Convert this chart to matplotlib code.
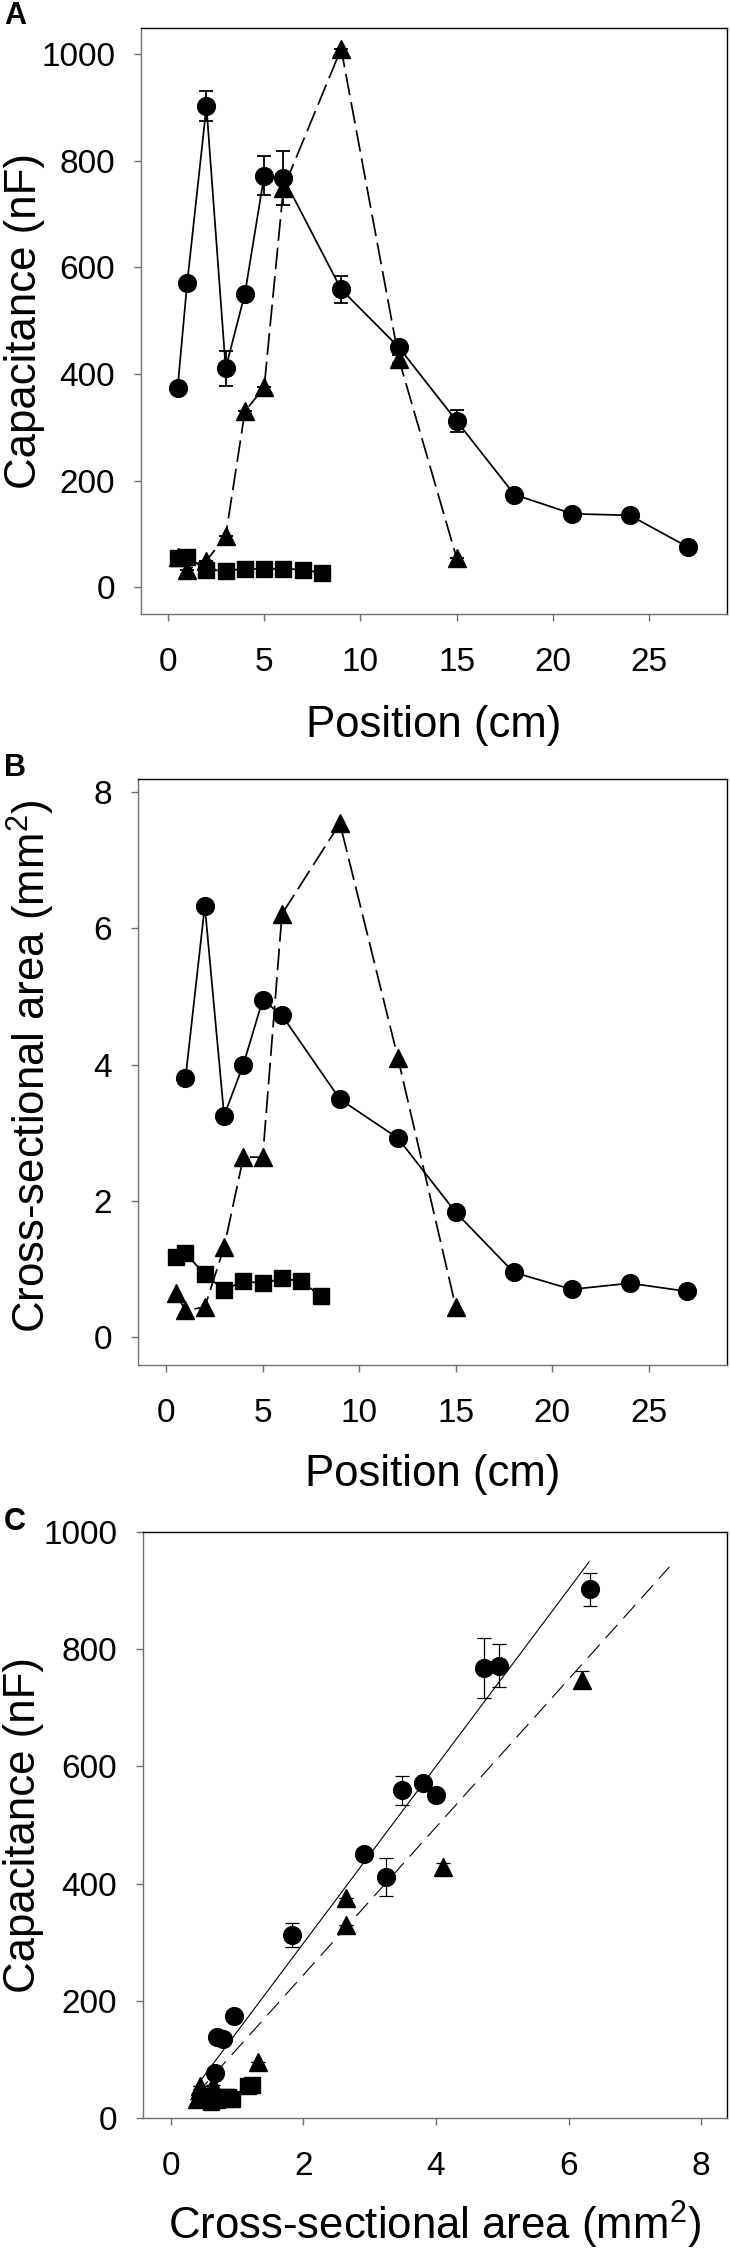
import matplotlib
matplotlib.use("Agg")
import matplotlib.pyplot as plt
import numpy as np

plt.rcParams['font.family'] = ['Liberation Sans', 'DejaVu Sans']
plt.rcParams['mathtext.fontset'] = 'custom'
plt.rcParams['mathtext.rm'] = 'Liberation Sans'
plt.rcParams['mathtext.it'] = 'Liberation Sans'

# ---------------- data ----------------
# Panel A: capacitance (nF) vs position (cm)
circ_pos_A = [0.5, 1, 2, 3, 4, 5, 6, 9, 12, 15, 18, 21, 24, 27]
circ_cap = [373, 571, 902, 411, 551, 772, 768, 559, 450, 312, 174, 138, 135, 76]
circ_cap_err = [0, 8, 28, 33, 0, 37, 51, 25, 8, 20, 0, 0, 0, 0]

tri_pos = [0.5, 1, 2, 3, 4, 5, 6, 9, 12, 15]
tri_cap = [56, 33, 50, 96, 330, 375, 748, 1010, 428, 55]
tri_cap_err = [0, 0, 0, 0, 0, 0, 15, 0, 8, 0]

sq_pos = [0.5, 1, 2, 3, 4, 5, 6, 7, 8]
sq_cap = [55, 57, 33, 31, 35, 34, 35, 33, 27]

# Panel B: cross-sectional area (mm^2) vs position (cm)
circ_pos_B = [1, 2, 3, 4, 5, 6, 9, 12, 15, 18, 21, 24, 27]
circ_area = [3.80, 6.33, 3.25, 4.00, 4.95, 4.72, 3.49, 2.92, 1.83, 0.95, 0.70, 0.79, 0.67]
tri_area = [0.64, 0.39, 0.44, 1.32, 2.64, 2.64, 6.21, 7.54, 4.10, 0.44]
sq_area = [1.17, 1.23, 0.92, 0.69, 0.82, 0.79, 0.86, 0.82, 0.60]

# Panel C: regression lines (slope, intercept, x-range)
fit_solid = dict(slope=151.0, intercept=-3.7, x0=0.45, x1=6.31)
fit_dashed = dict(slope=126.1, intercept=-8.0, x0=0.38, x1=7.52)

# ---------------- figure ----------------
W, H = 730, 2250
fig = plt.figure(figsize=(W / 100, H / 100), dpi=100)

def frac(left, top, right, bottom):
    return [left / W, 1 - bottom / H, (right - left) / W, (bottom - top) / H]

boxA = (141, 28, 727, 614)
boxB = (138, 779, 727, 1365)
boxC = (143, 1532, 727, 2118)
axA = fig.add_axes(frac(*boxA))
axB = fig.add_axes(frac(*boxB))
axC = fig.add_axes(frac(*boxC))

TICK_FS = 24
LABEL_FS = 31.5
GREY = '#707070'

def style(ax):
    for s in ['top', 'right']:
        ax.spines[s].set_color('black')
        ax.spines[s].set_linewidth(1.0)
    for s in ['left', 'bottom']:
        ax.spines[s].set_color(GREY)
        ax.spines[s].set_linewidth(1.0)
    ax.tick_params(direction='out', length=5, width=1.0, color=GREY,
                   labelsize=TICK_FS, labelcolor='black',
                   top=False, right=False)
    ax.tick_params(axis='x', pad=19)
    ax.tick_params(axis='y', pad=13.5)

def xlabel(text, box, baseline):
    cx = (box[0] + box[2]) / 2
    fig.text(cx / W, 1 - baseline / H, text, fontsize=LABEL_FS,
             ha='center', va='baseline')

def ylabel(text, box, baseline_x, cy=None):
    if cy is None:
        cy = (box[1] + box[3]) / 2
    fig.text(baseline_x / W, 1 - cy / H, text, fontsize=LABEL_FS,
             rotation=90, rotation_mode='anchor', ha='center', va='baseline')

MS_C = 12.8
MS_T = 13
MS_S = 12
LW = 1.25
CAP = 5
dash_A = (0, (12.5, 4))

# ---- Panel A ----
axA.errorbar(tri_pos, tri_cap, yerr=tri_cap_err, color='black', marker='^',
             ms=MS_T, lw=LW, linestyle=dash_A, capsize=CAP, elinewidth=1.3,
             capthick=1.3, zorder=2)
axA.errorbar(sq_pos, sq_cap, color='black', marker='s', ms=MS_S, lw=LW,
             linestyle='-', zorder=3)
axA.errorbar(circ_pos_A, circ_cap, yerr=circ_cap_err, color='black',
             marker='o', ms=MS_C, lw=LW, linestyle='-', capsize=CAP,
             elinewidth=1.3, capthick=1.3, zorder=4)
axA.set_xlim(-1.4, 29.05)
axA.set_ylim(-50, 1049)
axA.set_xticks([0, 5, 10, 15, 20, 25])
axA.set_yticks([0, 200, 400, 600, 800, 1000])
style(axA)
xlabel('Position (cm)', boxA, 737)
ylabel('Capacitance (nF)', boxA, 36)

# ---- Panel B ----
axB.plot(tri_pos, tri_area, color='black', marker='^', ms=MS_T, lw=LW,
         linestyle=dash_A, zorder=2)
axB.plot(sq_pos, sq_area, color='black', marker='s', ms=MS_S, lw=LW,
         linestyle='-', zorder=3)
axB.plot(circ_pos_B, circ_area, color='black', marker='o', ms=MS_C, lw=LW,
         linestyle='-', zorder=4)
axB.set_xlim(-1.46, 29.05)
axB.set_ylim(-0.41, 8.19)
axB.set_xticks([0, 5, 10, 15, 20, 25])
axB.set_yticks([0, 2, 4, 6, 8])
style(axB)
xlabel('Position (cm)', boxB, 1486)
ylabel('Cross-sectional area (mm$^2$)', boxB, 46, cy=1066)

# ---- Panel C ----
area_by_pos = dict(zip(circ_pos_B, circ_area))
cap_by_pos = dict(zip(circ_pos_A, circ_cap))
err_by_pos = dict(zip(circ_pos_A, circ_cap_err))
cx = [area_by_pos[p] for p in circ_pos_B]
cy = [cap_by_pos[p] for p in circ_pos_B]
ce = [err_by_pos[p] for p in circ_pos_B]

# points above the 1000 nF axis limit are not shown in panel C
tri_keep = [i for i, v in enumerate(tri_cap) if v <= 1000]
tcx = [tri_area[i] for i in tri_keep]
tcy = [tri_cap[i] for i in tri_keep]
tce = [tri_cap_err[i] for i in tri_keep]

axC.errorbar(sq_area, sq_cap, color='black', marker='s', ms=MS_S,
             linestyle='none', zorder=3)
axC.errorbar(tcx, tcy, yerr=tce, color='black', marker='^',
             ms=MS_T, linestyle='none', capsize=CAP, elinewidth=0.9,
             capthick=0.9, zorder=3)
axC.errorbar(cx, cy, yerr=ce, color='black', marker='o', ms=MS_C,
             linestyle='none', capsize=CAP, elinewidth=0.9, capthick=0.9,
             zorder=4)
for fit, ls in [(fit_solid, '-'), (fit_dashed, (0, (16, 8)))]:
    xs = np.array([fit['x0'], fit['x1']])
    axC.plot(xs, fit['slope'] * xs + fit['intercept'], color='black',
             lw=0.8, linestyle=ls, zorder=2)
axC.set_xlim(-0.42, 8.39)
axC.set_ylim(0, 1000)
axC.set_xticks([0, 2, 4, 6, 8])
axC.set_yticks([0, 200, 400, 600, 800, 1000])
style(axC)
xlabel('Cross-sectional area (mm$^2$)', boxC, 2240)
ylabel('Capacitance (nF)', boxC, 35)

# panel letters
for letter, base in [('A', 24), ('B', 776), ('C', 1530)]:
    fig.text(4 / W, 1 - base / H, letter, fontsize=22, fontweight='bold',
             ha='left', va='baseline')

fig.savefig('out.png', dpi=100)
